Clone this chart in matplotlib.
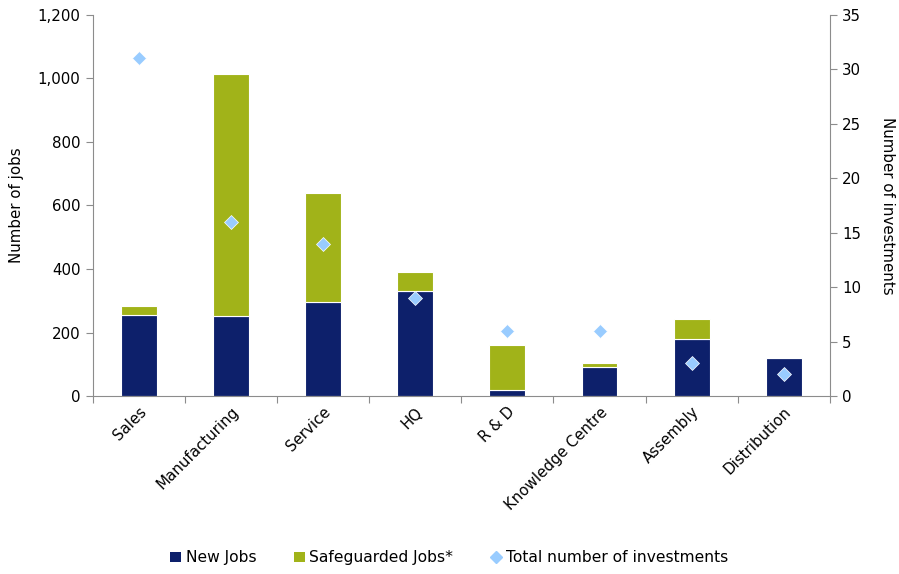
import matplotlib
matplotlib.use("Agg")
import matplotlib.pyplot as plt
from matplotlib.ticker import FuncFormatter, FixedLocator, MultipleLocator
from matplotlib.lines import Line2D
from matplotlib.patches import Patch
import numpy as np

categories = ["Sales", "Manufacturing", "Service", "HQ", "R & D",
              "Knowledge Centre", "Assembly", "Distribution"]
new_jobs = [255, 253, 295, 332, 18, 90, 181, 119]
safeguarded_jobs = [30, 760, 345, 58, 142, 14, 62, 0]
investments = [31, 16, 14, 9, 6, 6, 3, 2]

navy = "#0D206B"
olive = "#A1B319"
light_blue = "#99CCFF"
axis_grey = "#8C8C8C"

plt.rcParams["font.family"] = ["DejaVu Sans"]
plt.rcParams["font.size"] = 10.8

fig = plt.figure(figsize=(8.99, 5.74), dpi=100)
ax = fig.add_axes([0.1034, 0.310, 0.8196, 0.664])
ax2 = ax.twinx()

x = np.arange(len(categories))
w = 0.39
ax.bar(x, new_jobs, width=w, color=navy, edgecolor="white", linewidth=0.8, zorder=2)
ax.bar(x, safeguarded_jobs, width=w, bottom=new_jobs, color=olive,
       edgecolor="white", linewidth=0.8, zorder=2)
ax2.plot(x, investments, linestyle="none", marker="D", markersize=7.5,
         color=light_blue, markeredgecolor="white", markeredgewidth=0.5, zorder=3)

ax.set_xlim(-0.5, len(categories) - 0.5)
ax.set_ylim(0, 1200)
ax2.set_ylim(0, 35)
ax.yaxis.set_major_locator(MultipleLocator(200))
ax2.yaxis.set_major_locator(MultipleLocator(5))
ax.yaxis.set_major_formatter(FuncFormatter(lambda v, p: f"{int(v):,}"))

# category boundary ticks, labels at category centres
ax.xaxis.set_major_locator(FixedLocator(np.arange(len(categories) + 1) - 0.5))
ax.xaxis.set_major_formatter(FuncFormatter(lambda v, p: ""))
ax.xaxis.set_minor_locator(FixedLocator(x))
ax.set_xticklabels(categories, minor=True, rotation=45, ha="right",
                   rotation_mode="anchor")
ax.tick_params(axis="x", which="minor", length=0, pad=6)
ax.tick_params(axis="x", which="major", length=5, color=axis_grey, direction="out")
ax.tick_params(axis="y", length=5, color=axis_grey, direction="out", pad=4)
ax2.tick_params(axis="y", length=5, color=axis_grey, direction="out", pad=4)

for a in (ax, ax2):
    a.spines["top"].set_visible(False)
    for s in ("left", "right", "bottom"):
        a.spines[s].set_color(axis_grey)
ax2.spines["left"].set_visible(False)
ax2.spines["bottom"].set_visible(False)
ax.spines["right"].set_visible(False)

ax.set_ylabel("Number of jobs", labelpad=10)
ax2.set_ylabel("Number of investments", rotation=-90, labelpad=24)

handles = [
    Patch(facecolor=navy, edgecolor="none", label="New Jobs"),
    Patch(facecolor=olive, edgecolor="none", label="Safeguarded Jobs*"),
    Line2D([0], [0], marker="D", linestyle="none", color=light_blue,
           markersize=6, label="Total number of investments"),
]
fig.legend(handles=handles, loc="center", bbox_to_anchor=(0.5, 0.028), ncol=3,
           frameon=False, handlelength=0.7, handleheight=0.7, handletextpad=0.3,
           columnspacing=2.4, fontsize=11.2)

fig.savefig("out.png", dpi=100)
